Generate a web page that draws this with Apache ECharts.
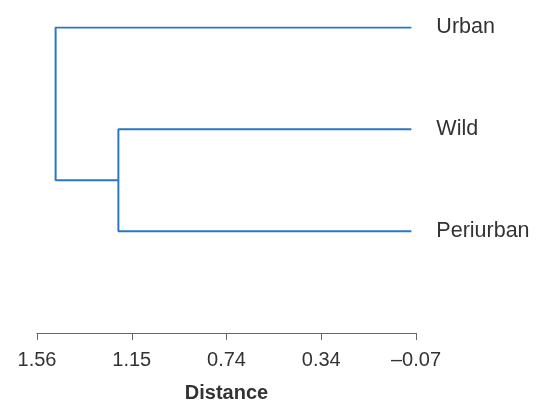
<!DOCTYPE html>
<html>
<head>
<meta charset="utf-8">
<script src="https://cdn.jsdelivr.net/npm/echarts@6/dist/echarts.min.js"></script>
<style>html,body{margin:0;padding:0;background:#fff;}#c{width:538px;height:402px;}</style>
</head>
<body>
<div id="c"></div>
<script>
// Data
var leaves = ['Urban', 'Wild', 'Periurban'];
var leafDistance = -0.05;
// merges: [childA, childB, distance]; children are leaf names or 'n0', 'n1'...
var merges = [
  ['Wild', 'Periurban', 1.21],
  ['Urban', 'n0', 1.48]
];
var tickLabels = ['1.56', '1.15', '0.74', '0.34', '–0.07'];
var axisMax = 1.56;
var axisMin = -0.07;

// build dendrogram paths
var nodes = {};
leaves.forEach(function (name, i) { nodes[name] = { x: leafDistance, y: i }; });
var pathData = [];
merges.forEach(function (m, i) {
  var a = nodes[m[0]], b = nodes[m[1]], d = m[2];
  pathData.push([a.x, a.y], [d, a.y], [d, b.y], [b.x, b.y], '-');
  nodes['n' + i] = { x: d, y: (a.y + b.y) / 2 };
});
var leafPoints = leaves.map(function (name, i) { return [leafDistance, i, name]; });

var chart = echarts.init(document.getElementById('c'));
chart.setOption({
  animation: false,
  grid: { left: 37, right: 122, top: 27.5, bottom: 69, containLabel: false, outerBoundsMode: 'none' },
  xAxis: [
    {
      type: 'category',
      data: tickLabels,
      boundaryGap: false,
      position: 'bottom',
      axisLine: { onZero: false, lineStyle: { color: '#666', width: 1 } },
      axisTick: { length: 7, inside: false, lineStyle: { color: '#666' } },
      axisLabel: { color: '#333', fontSize: 20, fontFamily: 'Liberation Sans, Arial, sans-serif', margin: 17 },
      name: 'Distance',
      nameLocation: 'middle',
      nameGap: 50,
      nameTextStyle: { color: '#333', fontSize: 20, fontWeight: 'bold', fontFamily: 'Liberation Sans, Arial, sans-serif' },
      splitLine: { show: false }
    },
    {
      type: 'value',
      min: axisMin,
      max: axisMax,
      inverse: true,
      show: false
    }
  ],
  yAxis: {
    type: 'value',
    min: 0,
    max: 3,
    inverse: true,
    show: false
  },
  series: [
    {
      type: 'line',
      xAxisIndex: 1,
      data: pathData,
      showSymbol: false,
      symbol: 'none',
      connectNulls: false,
      lineStyle: { color: '#2b78c2', width: 2 },
      silent: true
    },
    {
      type: 'scatter',
      xAxisIndex: 1,
      data: leafPoints,
      symbolSize: 0,
      itemStyle: { opacity: 1 },
      label: {
        show: true,
        position: 'right',
        distance: 25,
        formatter: function (p) { return p.data[2]; },
        color: '#333',
        fontSize: 21.5,
        fontFamily: 'Liberation Sans, Arial, sans-serif'
      },
      silent: true
    }
  ]
});
</script>
</body>
</html>
